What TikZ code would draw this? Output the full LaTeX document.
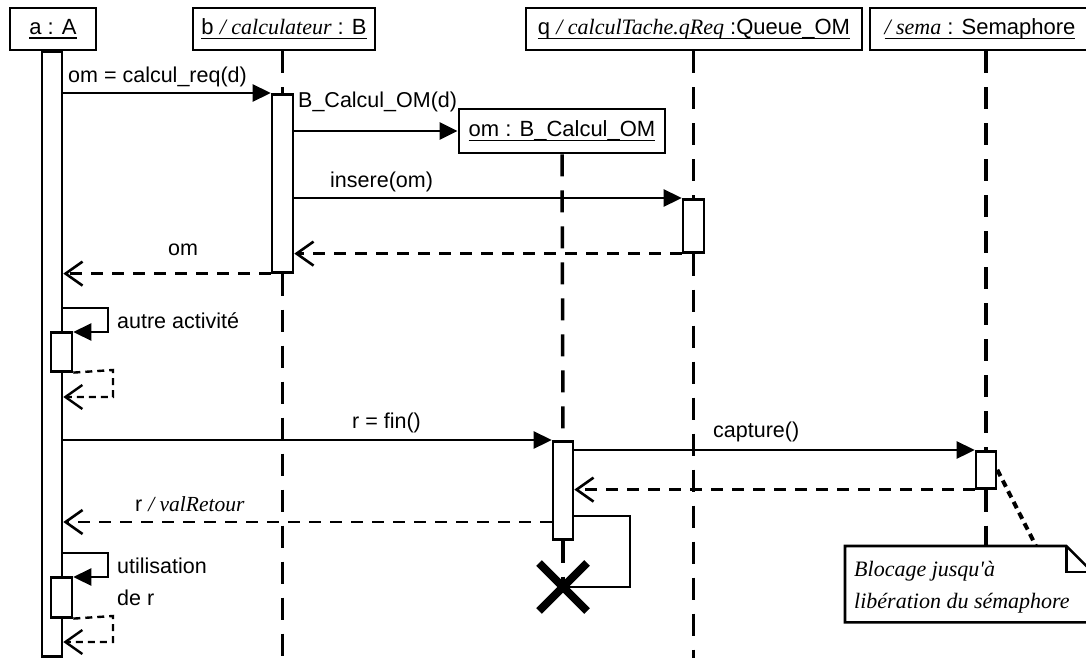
\documentclass[tikz,border=0pt]{standalone}
\usepackage{fontspec}
\setmainfont{Liberation Sans}
\newfontfamily\tnr{Liberation Serif}
\newcommand\uln[1]{\setbox0\hbox{#1}\rlap{\rule[-5pt]{\wd0}{1.6pt}}\box0}
\usetikzlibrary{arrows.meta,shapes.misc}
\tikzset{
  head/.style={draw, line width=2.8pt, fill=white, inner sep=0pt, font=\fontsize{22}{26}\selectfont},
  actbar/.style={draw, line width=2.6pt, fill=white, minimum width=20pt, inner sep=0pt},
  life/.style={line width=3.5pt, dash pattern=on 22pt off 14pt},
  call/.style={line width=2.6pt, -{Triangle[length=18pt,width=17pt]}},
  reply/.style={line width=2.6pt, dash pattern=on 12pt off 9pt, -{Straight Barb[length=17pt,width=24pt]}},
  selfreply/.style={line width=2.4pt, dash pattern=on 7pt off 5pt, -{Straight Barb[length=17pt,width=24pt]}},
  lbl/.style={font=\fontsize{21.5}{26}\selectfont, inner sep=0pt},
  noteline/.style={line width=2.6pt, fill=white},
  anchorline/.style={line width=4pt, dash pattern=on 7pt off 5pt},
}
\begin{document}
\begin{tikzpicture}[x=1pt,y=-1pt]
\useasboundingbox (0,0) rectangle (1086,658);
\clip (0,0) rectangle (1086,658);
\fill[white] (0,0) rectangle (1086,658);

% heads
\node[head, minimum width=86pt, minimum height=42pt] (a) at (53,29) {\uln{a : A}};
\node[head, minimum width=182pt, minimum height=42pt] (b) at (284,29) {\uln{b {\tnr\itshape / calculateur} : B}};
\node[head, minimum width=336pt, minimum height=42pt] (q) at (694,29) {\uln{q {\tnr\itshape / calculTache.qReq} :Queue\_OM}};
\node[head, minimum width=220pt, minimum height=42pt] (s) at (980,29) {\uln{{\tnr\itshape / sema} : Semaphore}};
\node[head, minimum width=206pt, minimum height=44pt] (om) at (562,131) {\uln{om : B\_Calcul\_OM}};

\coordinate (bot) at (0,660);

% activation bars (nodes, positions only)
\node[actbar, minimum height=605pt, anchor=north] (barA) at (52,50) {};
\node[actbar, minimum height=178pt, anchor=north, minimum width=21pt] (barB) at (282.5,93) {};
\node[actbar, minimum height=53pt, anchor=north, minimum width=21pt] (barQ) at (693.5,198) {};
\node[actbar, minimum height=98pt, anchor=north] (barOM) at (563,440) {};
\node[actbar, minimum height=37pt, anchor=north] (barS) at (986,450) {};

% note
\node[minimum width=247pt, minimum height=76pt, inner sep=0pt, anchor=north west] (note) at (845,546) {};
\coordinate (noteatt) at (1036,546);

% the object being destroyed
\coordinate (killpos) at (563,587);

% lifelines
\draw[life] (barB.north |- b.south) -- (barB.north);
\draw[life] (barB.south) -- (barB.south |- bot);
\draw[life] (barQ.north |- q.south) -- (barQ.north);
\draw[life] (barQ.south) -- (barQ.south |- bot);
\draw[life] (om.south) -- (barOM.north);
\draw[life] (barOM.south) -- (killpos);
\draw[life] (barS.north |- s.south) -- (barS.north);
\draw[life] (barS.south) -- (barS.south |- note.north);

% redraw bars on top of lifelines
\node[actbar, minimum height=605pt, anchor=north] at (52,50) {};
\node[actbar, minimum height=178pt, anchor=north, minimum width=21pt] at (282.5,93) {};
\node[actbar, minimum height=53pt, anchor=north, minimum width=21pt] at (693.5,198) {};
\node[actbar, minimum height=98pt, anchor=north] at (563,440) {};
\node[actbar, minimum height=37pt, anchor=north] at (986,450) {};

% self activations on a
\node[actbar, minimum width=21pt, minimum height=39pt, anchor=north] (act1) at (61.5,331) {};
\node[actbar, minimum width=21pt, minimum height=40pt, anchor=north] (act2) at (61.5,576) {};

% messages
\draw[call] (barA.east |- barB.north) -- (barB.north west);
\node[lbl, anchor=base west] (l1) at (68,83) {om = calcul\_req(d)};

\draw[call] (barB.east |- om.west) -- (om.west);
\node[lbl, anchor=base west] (l2) at (298,108) {B\_Calcul\_OM(d)};

\draw[call] (barB.east |- barQ.north) -- (barQ.north west);
\node[lbl, anchor=base west] (l3) at (330,187) {insere(om)};

\draw[reply] (barQ.south west) -- (barQ.south west -| barB.east);

\draw[reply] (barB.south west) -- (barB.south west -| barA.east);
\node[lbl, anchor=base] (l4) at (183,255) {om};

\draw[call] (barA.east |- 0,308) -- (108,308) |- (act1.east |- 0,332);
\node[lbl, anchor=base west] (l5) at (117,328) {autre activité};
\draw[selfreply] (act1.south east) -- (113,370) |- (barA.east |- 0,397);

\draw[call] (barA.east |- barOM.north) -- (barOM.north west);
\node[lbl, anchor=base west] (l6) at (352,428) {r = fin()};

\draw[call] (barOM.east |- barS.north) -- (barS.north west);
\node[lbl, anchor=base west] (l7) at (713,437) {capture()};

\draw[reply] (barS.south west) -- (barS.south west -| barOM.east);

\draw[reply] (barOM.west |- 0,522) -- (barA.east |- 0,522);
\node[lbl, anchor=base west] (l8) at (135,511) {r {\tnr\itshape / valRetour}};

\draw[line width=2.6pt] (barOM.east |- 0,516) -| (630,587) -- (killpos);
\node[cross out, draw, line width=8pt, minimum size=40pt, inner sep=0pt] (kill) at (killpos) {};

\draw[call] (barA.east |- 0,553) -- (108,553) |- (act2.east |- 0,577);
\node[lbl, anchor=base west] (l9) at (117,573) {utilisation};
\node[lbl, anchor=base west] (l10) at (117,605) {de r};
\draw[selfreply] (act2.south east) -- (113,616) |- (barA.east |- 0,642);

% note
\draw[anchorline] (barS.east) -- (noteatt);
\draw[noteline] (note.north west) -- ([xshift=-26pt]note.north east) -- ([yshift=-26pt]note.north east) -- (note.south east) -- (note.south west) -- cycle;
\draw[line width=2.6pt] ([xshift=-26pt]note.north east) |- ([yshift=-26pt]note.north east);
\node[inner sep=0pt, anchor=west, align=left, font=\tnr\itshape\fontsize{22}{32}\selectfont] (notetext) at (854,587) {Blocage jusqu'à\\libération du sémaphore};
\end{tikzpicture}
\end{document}
